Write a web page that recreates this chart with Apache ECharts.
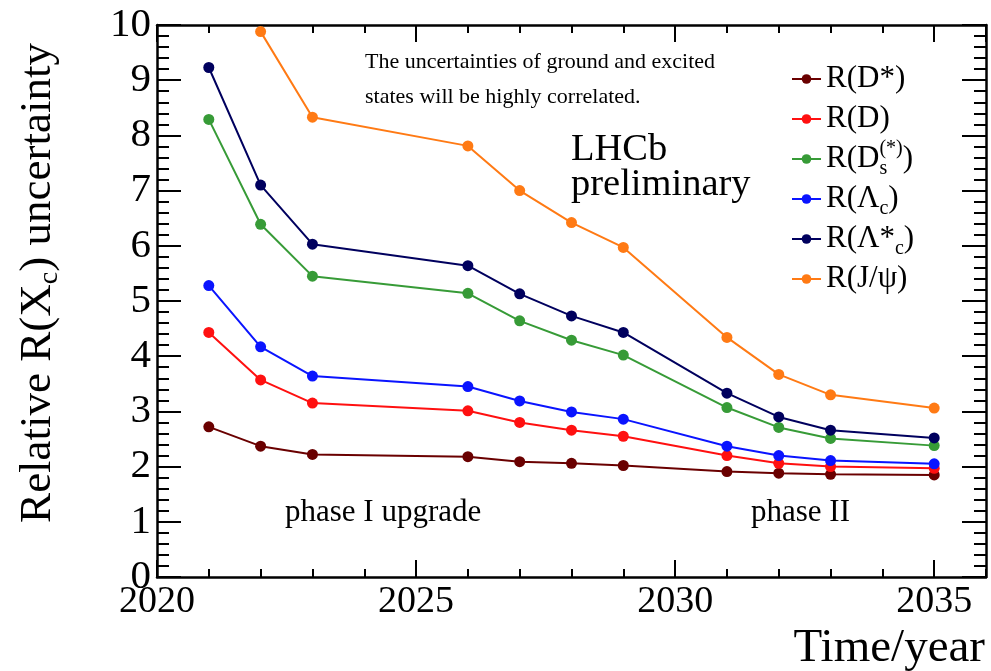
<!DOCTYPE html>
<html>
<head>
<meta charset="utf-8">
<script src="https://cdn.jsdelivr.net/npm/echarts@6/dist/echarts.min.js"></script>
<style>
html,body{margin:0;padding:0;background:#fff;}
#chart{width:991px;height:671px;}
</style>
</head>
<body>
<div id="chart"></div>
<script>
// ---- data ----
var years = [2021, 2022, 2023, 2026, 2027, 2028, 2029, 2031, 2032, 2033, 2035];
var rDstar  = [2.72, 2.37, 2.22, 2.18, 2.09, 2.06, 2.02, 1.91, 1.88, 1.86, 1.85];
var rD      = [4.43, 3.57, 3.15, 3.01, 2.80, 2.66, 2.55, 2.20, 2.06, 2.00, 1.97];
var rDs     = [8.29, 6.39, 5.45, 5.14, 4.64, 4.29, 4.02, 3.07, 2.71, 2.51, 2.38];
var rLc     = [5.28, 4.17, 3.64, 3.45, 3.19, 2.99, 2.86, 2.37, 2.20, 2.11, 2.05];
var rLcStar = [9.23, 7.10, 6.03, 5.64, 5.13, 4.73, 4.43, 3.33, 2.90, 2.66, 2.52];
var rJpsi   = [null, 9.88, 8.33, 7.81, 7.00, 6.42, 5.97, 4.34, 3.67, 3.30, 3.06];
var seriesNames = ['R(D*)', 'R(D)', 'R(Ds(*))', 'R(Λc)', 'R(Λ*c)', 'R(J/ψ)'];
var seriesValues = [rDstar, rD, rDs, rLc, rLcStar, rJpsi];
var xTickLabels = [2020, 2025, 2030, 2035];
var yTickLabels = [0, 1, 2, 3, 4, 5, 6, 7, 8, 9, 10];

// ---- styling ----
var FONT = '"Liberation Serif", "DejaVu Serif", serif';
var colors = ['#6a0000', '#ff1010', '#379b37', '#0a14ff', '#00005e', '#ff7a14'];
var legendRich = {
  'R(D*)': '{n|R(D*)}',
  'R(D)': '{n|R(D)}',
  'R(Ds(*))': '{n|R(D}{sub0|s}{sup|(*)}{n|)}',
  'R(Λc)': '{n|R(Λ}{sub|c}{n|)}',
  'R(Λ*c)': '{n|R(Λ*}{sub|c}{n|)}',
  'R(J/ψ)': '{n|R(J/ψ)}'
};

var series = seriesNames.map(function (name, k) {
  var vals = seriesValues[k];
  var pts = [];
  years.forEach(function (y, i) { if (vals[i] !== null) pts.push([y, vals[i]]); });
  return {
    name: name,
    type: 'line',
    xAxisIndex: 0,
    yAxisIndex: 0,
    data: pts,
    symbol: 'circle',
    symbolSize: 11,
    color: colors[k],
    lineStyle: { width: 2, color: colors[k] },
    itemStyle: { color: colors[k] },
    z: 3
  };
});

function xAx(pos, interval, len, withLabels) {
  return {
    type: 'value', position: pos, min: 2020, max: 2036, interval: interval,
    axisLine: { show: interval === 5, onZero: false, lineStyle: { color: '#000', width: 2.5 } },
    axisTick: { show: true, inside: true, length: len, lineStyle: { color: '#000', width: 2 } },
    axisLabel: withLabels ? {
      show: true, fontSize: 38, fontFamily: FONT, color: '#000', margin: 6, showMaxLabel: false,
      formatter: function (v) { return xTickLabels.indexOf(v) >= 0 ? String(v) : ''; }
    } : { show: false },
    splitLine: { show: false }
  };
}
function yAx(pos, withLabels) {
  return {
    type: 'value', position: pos, min: 0, max: 10, interval: 1,
    axisLine: { show: true, onZero: false, lineStyle: { color: '#000', width: 2.5 } },
    axisTick: { show: true, inside: true, length: 24, lineStyle: { color: '#000', width: 2 } },
    minorTick: { show: true, splitNumber: 5, length: 12, lineStyle: { color: '#000', width: 2 } },
    axisLabel: withLabels ? {
      show: true, fontSize: 41, fontFamily: FONT, color: '#000', margin: 6,
      formatter: function (v) { return yTickLabels.indexOf(v) >= 0 ? String(v) : ''; }
    } : { show: false },
    splitLine: { show: false },
    minorSplitLine: { show: false }
  };
}

var xAxes = [xAx('bottom', 5, 17, true), xAx('bottom', 1, 8, false), xAx('top', 5, 17, false), xAx('top', 1, 8, false)];
xAxes[0].name = 'Time/year';
xAxes[0].nameLocation = 'end';
xAxes[0].nameGap = -1;
xAxes[0].nameTextStyle = { fontSize: 47, fontFamily: FONT, color: '#000', align: 'right', verticalAlign: 'top', padding: [48, 0, 0, 0] };

var yAxes = [yAx('left', true), yAx('right', false)];
yAxes[0].name = '{n|Relative R(X}{sub|c}{n|) uncertainty}';
yAxes[0].nameLocation = 'middle';
yAxes[0].nameGap = 93;
yAxes[0].nameTextStyle = {
  fontSize: 45, fontFamily: FONT, color: '#000', padding: [0, 0, 0, 36],
  rich: {
    n: { fontSize: 45, fontFamily: FONT, color: '#000', lineHeight: 52 },
    sub: { fontSize: 28, fontFamily: FONT, color: '#000', lineHeight: 26, verticalAlign: 'bottom' }
  }
};

var chart = echarts.init(document.getElementById('chart'), null, { renderer: 'canvas' });
chart.setOption({
  animation: false,
  backgroundColor: '#fff',
  grid: { left: 157, right: 5, top: 25, bottom: 94, containLabel: false, outerBoundsMode: 'none' },
  xAxis: xAxes,
  yAxis: yAxes,
  legend: {
    orient: 'vertical', left: 786, top: 54, itemGap: 0, itemWidth: 29, itemHeight: 12,
    data: seriesNames,
    formatter: function (name) { return legendRich[name] || name; },
    textStyle: {
      fontSize: 31, fontFamily: FONT, color: '#000', lineHeight: 40,
      rich: {
        n: { fontSize: 31, fontFamily: FONT, color: '#000', lineHeight: 40 },
        sub: { fontSize: 20, fontFamily: FONT, color: '#000', lineHeight: 16, verticalAlign: 'bottom' },
        sub0: { fontSize: 20, fontFamily: FONT, color: '#000', lineHeight: 16, verticalAlign: 'bottom', width: 0 },
        sup: { fontSize: 20, fontFamily: FONT, color: '#000', lineHeight: 16, verticalAlign: 'top' }
      }
    }
  },
  graphic: [
    { type: 'text', left: 365, top: 51, z: 10, style: { text: 'The uncertainties of ground and excited', fontSize: 22, fontFamily: FONT, fill: '#000' } },
    { type: 'text', left: 365, top: 86, z: 10, style: { text: 'states will be highly correlated.', fontSize: 22, fontFamily: FONT, fill: '#000' } },
    { type: 'text', left: 571, top: 130, z: 10, style: { text: 'LHCb', fontSize: 38.5, fontFamily: FONT, fill: '#000' } },
    { type: 'text', left: 571, top: 165, z: 10, style: { text: 'preliminary', fontSize: 38.5, fontFamily: FONT, fill: '#000' } },
    { type: 'text', left: 285, top: 497, z: 10, style: { text: 'phase I upgrade', fontSize: 31, fontFamily: FONT, fill: '#000' } },
    { type: 'text', left: 751, top: 497, z: 10, style: { text: 'phase II', fontSize: 31, fontFamily: FONT, fill: '#000' } }
  ],
  series: series
});
</script>
</body>
</html>
